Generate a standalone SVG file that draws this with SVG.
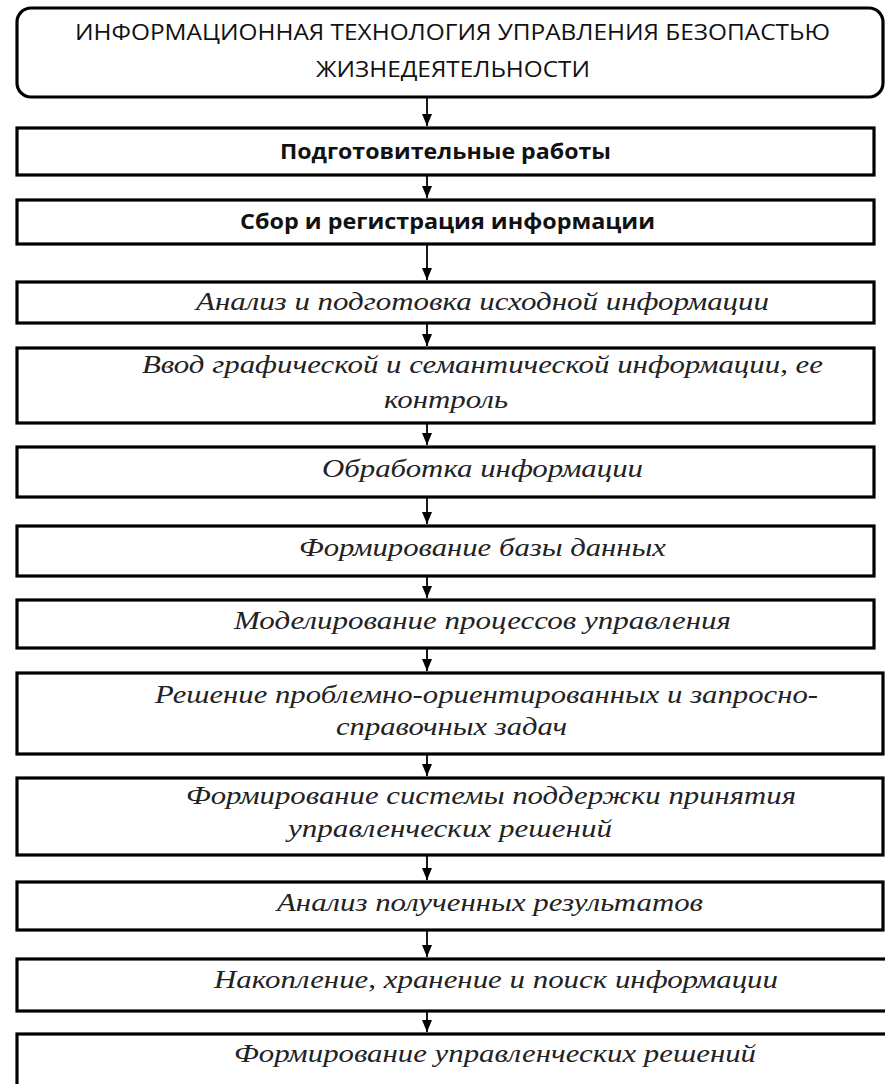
<svg xmlns="http://www.w3.org/2000/svg" width="885" height="1084" viewBox="0 0 885 1084">
<style>
.box{fill:#fff;stroke:#000;stroke-width:3.2}
.conn{stroke:#000;stroke-width:1.8;fill:none}
.cap{font-family:"Open Sans","Liberation Sans",sans-serif;font-size:21px;fill:#111}
.bold{font-family:"Open Sans","Liberation Sans",sans-serif;font-size:21px;font-weight:bold;fill:#111}
.it{font-family:"Liberation Serif","DejaVu Serif",serif;font-size:25px;font-style:italic;fill:#222}
</style>
<defs>
<marker id="ah" viewBox="0 0 12 10" markerWidth="12" markerHeight="10" refX="12" refY="5" orient="auto" markerUnits="userSpaceOnUse">
<path d="M0,0 L12,5 L0,10 z" fill="#000"/>
</marker>
</defs>
<rect width="885" height="1084" fill="#fff"/>
<g id="connectors">
<line class="conn" x1="427" y1="97" x2="427" y2="126" marker-end="url(#ah)"/>
<line class="conn" x1="427" y1="175" x2="427" y2="198" marker-end="url(#ah)"/>
<line class="conn" x1="427" y1="244" x2="427" y2="280" marker-end="url(#ah)"/>
<line class="conn" x1="427" y1="323" x2="427" y2="346" marker-end="url(#ah)"/>
<line class="conn" x1="427" y1="423" x2="427" y2="445" marker-end="url(#ah)"/>
<line class="conn" x1="427" y1="497" x2="427" y2="524" marker-end="url(#ah)"/>
<line class="conn" x1="427" y1="576" x2="427" y2="598" marker-end="url(#ah)"/>
<line class="conn" x1="427" y1="648" x2="427" y2="671" marker-end="url(#ah)"/>
<line class="conn" x1="427" y1="754" x2="427" y2="776" marker-end="url(#ah)"/>
<line class="conn" x1="427" y1="855" x2="427" y2="880" marker-end="url(#ah)"/>
<line class="conn" x1="427" y1="930" x2="427" y2="957" marker-end="url(#ah)"/>
<line class="conn" x1="427" y1="1011" x2="427" y2="1032" marker-end="url(#ah)"/>
</g>
<g id="n1">
<rect class="box" x="17" y="8" width="866" height="89" rx="14" ry="14"/>
<text class="cap" x="75" y="40" textLength="755" lengthAdjust="spacingAndGlyphs">ИНФОРМАЦИОННАЯ ТЕХНОЛОГИЯ УПРАВЛЕНИЯ БЕЗОПАСТЬЮ</text>
<text class="cap" x="316" y="77" textLength="274" lengthAdjust="spacingAndGlyphs">ЖИЗНЕДЕЯТЕЛЬНОСТИ</text>
</g>
<g id="n2">
<rect class="box" x="17" y="128" width="857" height="47"/>
<text class="bold" x="280" y="159" textLength="331" lengthAdjust="spacingAndGlyphs">Подготовительные работы</text>
</g>
<g id="n3">
<rect class="box" x="17" y="200" width="857" height="44"/>
<text class="bold" x="240" y="229" textLength="415" lengthAdjust="spacingAndGlyphs">Сбор и регистрация информации</text>
</g>
<g id="n4">
<rect class="box" x="17" y="282" width="857" height="41"/>
<text class="it" x="196" y="310" textLength="573" lengthAdjust="spacingAndGlyphs">Анализ и подготовка исходной информации</text>
</g>
<g id="n5">
<rect class="box" x="17" y="348" width="857" height="75"/>
<text class="it" x="142" y="373" textLength="681" lengthAdjust="spacingAndGlyphs">Ввод графической и семантической информации, ее</text>
<text class="it" x="384" y="408" textLength="124" lengthAdjust="spacingAndGlyphs">контроль</text>
</g>
<g id="n6">
<rect class="box" x="17" y="447" width="857" height="50"/>
<text class="it" x="322" y="477" textLength="321" lengthAdjust="spacingAndGlyphs">Обработка информации</text>
</g>
<g id="n7">
<rect class="box" x="17" y="526" width="857" height="50"/>
<text class="it" x="299" y="556" textLength="367" lengthAdjust="spacingAndGlyphs">Формирование базы данных</text>
</g>
<g id="n8">
<rect class="box" x="17" y="600" width="857" height="48"/>
<text class="it" x="234" y="629" textLength="497" lengthAdjust="spacingAndGlyphs">Моделирование процессов управления</text>
</g>
<g id="n9">
<rect class="box" x="17" y="673" width="866" height="81"/>
<text class="it" x="155" y="703" textLength="663" lengthAdjust="spacingAndGlyphs">Решение проблемно-ориентированных и запросно-</text>
<text class="it" x="336" y="735" textLength="231" lengthAdjust="spacingAndGlyphs">справочных задач</text>
</g>
<g id="n10">
<rect class="box" x="17" y="778" width="866" height="77"/>
<text class="it" x="186" y="804" textLength="610" lengthAdjust="spacingAndGlyphs">Формирование системы поддержки принятия</text>
<text class="it" x="288" y="837" textLength="324" lengthAdjust="spacingAndGlyphs">управленческих решений</text>
</g>
<g id="n11">
<rect class="box" x="17" y="882" width="866" height="48"/>
<text class="it" x="277" y="911" textLength="426" lengthAdjust="spacingAndGlyphs">Анализ полученных результатов</text>
</g>
<g id="n12">
<rect class="box" x="17" y="959" width="872" height="52"/>
<text class="it" x="214" y="988" textLength="564" lengthAdjust="spacingAndGlyphs">Накопление, хранение и поиск информации</text>
</g>
<g id="n13">
<rect class="box" x="17" y="1034" width="872" height="52"/>
<text class="it" x="234" y="1062" textLength="522" lengthAdjust="spacingAndGlyphs">Формирование управленческих решений</text>
</g>
</svg>
